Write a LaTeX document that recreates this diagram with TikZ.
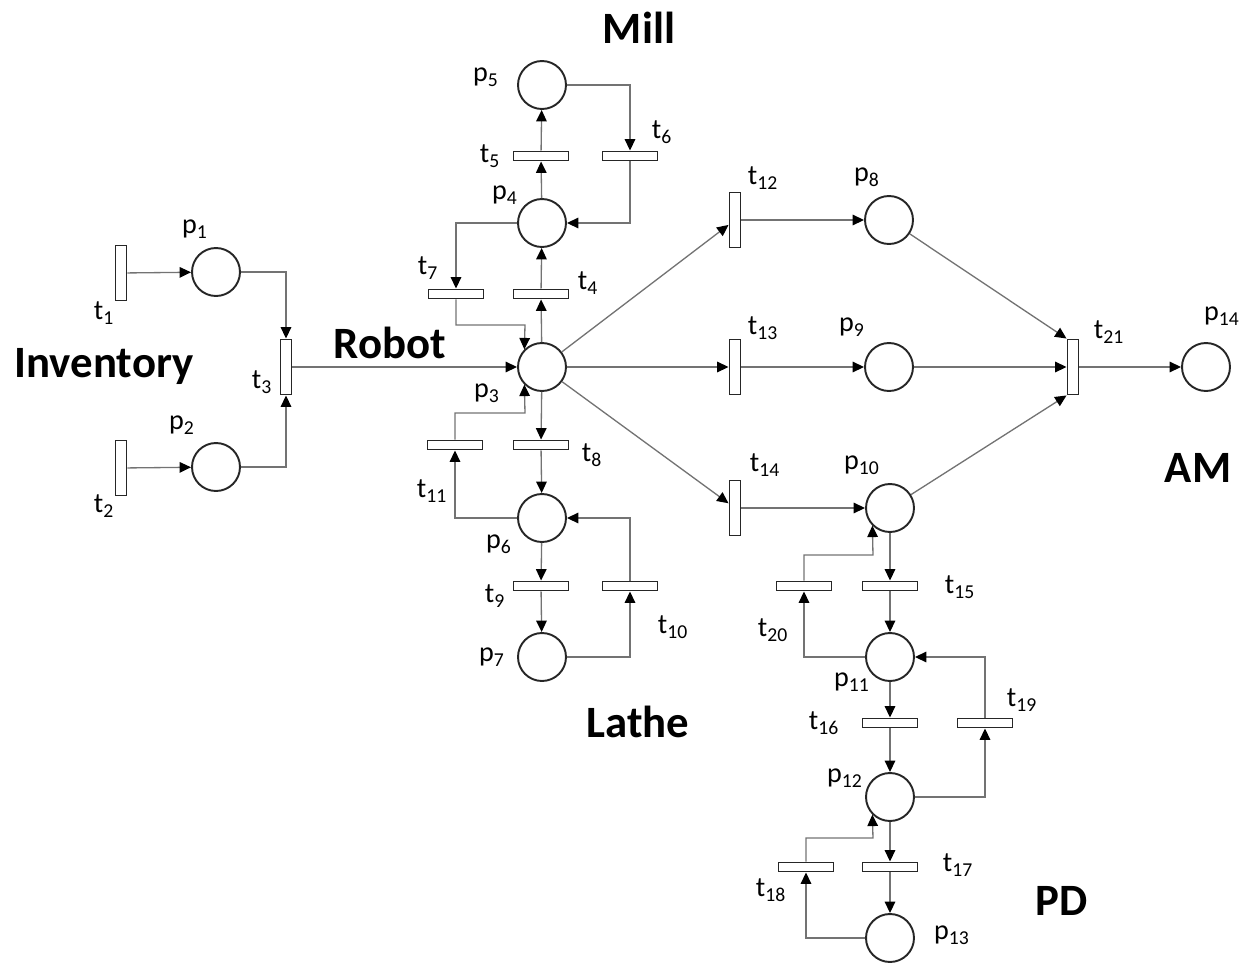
\documentclass[tikz,border=0pt]{standalone}
\usepackage{fontspec}
\setmainfont{Carlito}
\usetikzlibrary{arrows.meta}
\begin{document}
\begin{tikzpicture}[x=0.02cm,y=-0.02cm,
  place/.style={circle,draw=black!85,line width=1.1pt,minimum size=0.96cm,inner sep=0pt,fill=white},
  vtr/.style={rectangle,draw=black!85,line width=1.1pt,minimum width=0.22cm,minimum height=1.1cm,inner sep=0pt,fill=white},
  htr/.style={rectangle,draw=black!85,line width=1.1pt,minimum width=1.1cm,minimum height=0.18cm,inner sep=0pt,fill=white},
  arc/.style={draw=black!55,line width=0.75pt,-{Triangle[length=6.5pt,width=6pt,color=black]}},
  lbl/.style={font=\fontsize{16}{19}\selectfont,inner sep=0pt},
  big/.style={font=\fontsize{25.5}{30}\selectfont\bfseries,inner sep=0pt,anchor=base},
]
\useasboundingbox (0,0) rectangle (1249,964);

% places
\node[place] (p1) at (216,272) {};
\node[place] (p2) at (216,467) {};
\node[place] (p3) at (542,367) {};
\node[place] (p4) at (542,223) {};
\node[place] (p5) at (542,85) {};
\node[place] (p6) at (542,518) {};
\node[place] (p7) at (542,657) {};
\node[place] (p8) at (889,220) {};
\node[place] (p9) at (889,367) {};
\node[place] (p10) at (890,508) {};
\node[place] (p11) at (890,657) {};
\node[place] (p12) at (890,797) {};
\node[place] (p13) at (890,938) {};
\node[place] (p14) at (1206,367) {};

% vertical transitions
\node[vtr] (t1) at (121,273) {};
\node[vtr] (t2) at (121,468) {};
\node[vtr] (t3) at (286,367) {};
\node[vtr] (t12) at (735,220) {};
\node[vtr] (t13) at (735,367) {};
\node[vtr] (t14) at (735,508) {};
\node[vtr] (t21) at (1073,367) {};

% horizontal transitions
\node[htr] (t4) at (541,294) {};
\node[htr] (t5) at (541,156) {};
\node[htr] (t6) at (630,156) {};
\node[htr] (t7) at (456,294) {};
\node[htr] (t8) at (541,445) {};
\node[htr] (t9) at (541,586) {};
\node[htr] (t10) at (630,586) {};
\node[htr] (t11) at (455,445) {};
\node[htr] (t15) at (890,586) {};
\node[htr] (t16) at (890,723) {};
\node[htr] (t17) at (890,867) {};
\node[htr] (t18) at (806,867) {};
\node[htr] (t19) at (985,723) {};
\node[htr] (t20) at (804,586) {};

% corner coordinates
\coordinate (c7) at (525,325);
\coordinate (c11) at (525,413);
\coordinate (c20) at (873,555);
\coordinate (c18) at (873,838);

% inventory
\draw[arc] (t1) -- (p1);
\draw[arc] (t2) -- (p2);
\draw[arc] (p1) -| (t3);
\draw[arc] (p2) -| (t3);
\draw[arc] (t3) -- (p3);

% mill
\draw[arc] (p3) -- (t4);
\draw[arc] (t4) -- (p4);
\draw[arc] (p4) -- (t5);
\draw[arc] (t5) -- (p5);
\draw[arc] (p5) -| (t6);
\draw[arc] (t6) |- (p4);
\draw[arc] (p4) -| (t7);
\draw[arc] (t7) |- (c7) -- (p3.north west);

% lathe
\draw[arc] (p3) -- (t8);
\draw[arc] (t8) -- (p6);
\draw[arc] (p6) -- (t9);
\draw[arc] (t9) -- (p7);
\draw[arc] (p7) -| (t10);
\draw[arc] (t10) |- (p6);
\draw[arc] (p6) -| (t11);
\draw[arc] (t11) |- (c11) -- (p3.south west);

% robot to AM
\draw[arc] (p3) -- (t12);
\draw[arc] (p3) -- (t13);
\draw[arc] (p3) -- (t14);
\draw[arc] (t12) -- (p8);
\draw[arc] (t13) -- (p9);
\draw[arc] (t14) -- (p10);
\draw[arc] (p8) -- (t21.north west);
\draw[arc] (p9) -- (t21);
\draw[arc] (p10) -- (t21.south west);
\draw[arc] (t21) -- (p14);

% PD
\draw[arc] (p10) -- (t15);
\draw[arc] (t15) -- (p11);
\draw[arc] (p11) -- (t16);
\draw[arc] (t16) -- (p12);
\draw[arc] (p12) -- (t17);
\draw[arc] (t17) -- (p13);
\draw[arc] (p11) -| (t20);
\draw[arc] (t20) |- (c20) -- (p10.south west);
\draw[arc] (p12) -| (t19);
\draw[arc] (t19) |- (p11);
\draw[arc] (p13) -| (t18);
\draw[arc] (t18) |- (c18) -- (p12.south west);

% big labels
\node[big] (lmill) at (639,43) {Mill};
\node[big] (lrobot) at (390,358) {Robot};
\node[big] (linv) at (104,377) {Inventory};
\node[big] (lam) at (1198,482) {AM};
\node[big] (llathe) at (638,737) {Lathe};
\node[big] (lpd) at (1062,915) {PD};

% small labels
\node[lbl] (lp1) at (195,229) {p\textsubscript{1}};
\node[lbl] (lp2) at (182,425) {p\textsubscript{2}};
\node[lbl] (lt1) at (104,313) {t\textsubscript{1}};
\node[lbl] (lt2) at (104,506) {t\textsubscript{2}};
\node[lbl] (lt3) at (262,382) {t\textsubscript{3}};
\node[lbl] (lp3) at (487,393) {p\textsubscript{3}};
\node[lbl] (lp4) at (505,195) {p\textsubscript{4}};
\node[lbl] (lp5) at (486,77) {p\textsubscript{5}};
\node[lbl] (lt4) at (588,283) {t\textsubscript{4}};
\node[lbl] (lt5) at (490,156) {t\textsubscript{5}};
\node[lbl] (lt6) at (662,132) {t\textsubscript{6}};
\node[lbl] (lt7) at (428,268) {t\textsubscript{7}};
\node[lbl] (lt8) at (592,455) {t\textsubscript{8}};
\node[lbl] (lt9) at (495,596) {t\textsubscript{9}};
\node[lbl] (lt10) at (673,627) {t\textsubscript{10}};
\node[lbl] (lt11) at (432,491) {t\textsubscript{11}};
\node[lbl] (lp6) at (499,544) {p\textsubscript{6}};
\node[lbl] (lp7) at (492,657) {p\textsubscript{7}};
\node[lbl] (lt12) at (763,178) {t\textsubscript{12}};
\node[lbl] (lp8) at (867,177) {p\textsubscript{8}};
\node[lbl] (lt13) at (763,328) {t\textsubscript{13}};
\node[lbl] (lp9) at (852,327) {p\textsubscript{9}};
\node[lbl] (lt14) at (765,465) {t\textsubscript{14}};
\node[lbl] (lp10) at (862,465) {p\textsubscript{10}};
\node[lbl] (lt21) at (1109,332) {t\textsubscript{21}};
\node[lbl] (lp14) at (1222,316) {p\textsubscript{14}};
\node[lbl] (lt15) at (960,587) {t\textsubscript{15}};
\node[lbl] (lt20) at (773,630) {t\textsubscript{20}};
\node[lbl] (lp11) at (852,682) {p\textsubscript{11}};
\node[lbl] (lt19) at (1022,700) {t\textsubscript{19}};
\node[lbl] (lt16) at (824,723) {t\textsubscript{16}};
\node[lbl] (lp12) at (845,778) {p\textsubscript{12}};
\node[lbl] (lt17) at (958,865) {t\textsubscript{17}};
\node[lbl] (lt18) at (771,890) {t\textsubscript{18}};
\node[lbl] (lp13) at (952,935) {p\textsubscript{13}};
\end{tikzpicture}
\end{document}
